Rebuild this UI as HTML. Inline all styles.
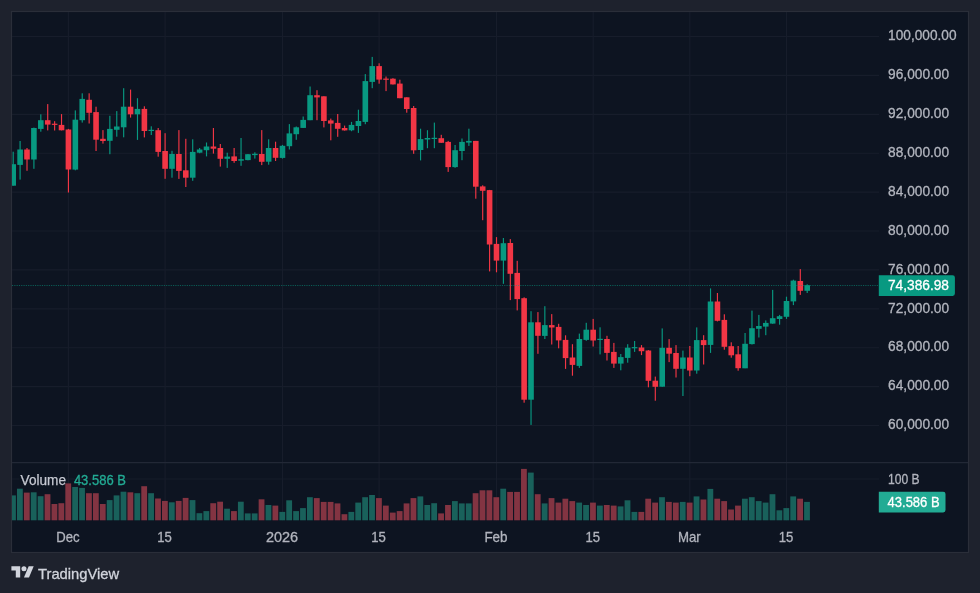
<!DOCTYPE html>
<html lang="en"><head><meta charset="utf-8"><title>TradingView Chart</title>
<style>html,body{margin:0;padding:0;background:#1e222d;}body{width:980px;height:593px;overflow:hidden;}svg{display:block;filter:blur(0.4px);font-family:"Liberation Sans",sans-serif;}</style></head><body>
<svg width="980" height="593" viewBox="0 0 980 593">
<rect x="0" y="0" width="980" height="593" fill="#1e222d"/>
<rect x="11.5" y="11.5" width="957" height="541" fill="#0d1421" stroke="#2a2e39" stroke-width="1.15"/>
<defs><clipPath id="cp"><rect x="12" y="12" width="867" height="540"/></clipPath></defs>
<g stroke="#171d2b" stroke-width="1.15">
<line x1="12" y1="36.5" x2="879" y2="36.5"/>
<line x1="12" y1="75.4" x2="879" y2="75.4"/>
<line x1="12" y1="114.3" x2="879" y2="114.3"/>
<line x1="12" y1="153.2" x2="879" y2="153.2"/>
<line x1="12" y1="192.1" x2="879" y2="192.1"/>
<line x1="12" y1="231.0" x2="879" y2="231.0"/>
<line x1="12" y1="269.9" x2="879" y2="269.9"/>
<line x1="12" y1="308.8" x2="879" y2="308.8"/>
<line x1="12" y1="347.7" x2="879" y2="347.7"/>
<line x1="12" y1="386.6" x2="879" y2="386.6"/>
<line x1="12" y1="425.5" x2="879" y2="425.5"/>
<line x1="12" y1="479.0" x2="879" y2="479.0"/>
<line x1="68.4" y1="12" x2="68.4" y2="520.5"/>
<line x1="165.1" y1="12" x2="165.1" y2="520.5"/>
<line x1="282.5" y1="12" x2="282.5" y2="520.5"/>
<line x1="379.1" y1="12" x2="379.1" y2="520.5"/>
<line x1="496.5" y1="12" x2="496.5" y2="520.5"/>
<line x1="593.2" y1="12" x2="593.2" y2="520.5"/>
<line x1="689.8" y1="12" x2="689.8" y2="520.5"/>
<line x1="786.5" y1="12" x2="786.5" y2="520.5"/>
</g>
<line x1="12" y1="462.6" x2="968" y2="462.6" stroke="#222836" stroke-width="1.15"/>
<g clip-path="url(#cp)">
<rect x="10.09" y="495.4" width="5.8" height="24.9" fill="#19615b"/>
<rect x="17.00" y="488.7" width="5.8" height="31.6" fill="#19615b"/>
<rect x="23.90" y="492.6" width="5.8" height="27.7" fill="#833442"/>
<rect x="30.81" y="492.3" width="5.8" height="28.0" fill="#19615b"/>
<rect x="37.71" y="496.2" width="5.8" height="24.1" fill="#19615b"/>
<rect x="44.62" y="494.2" width="5.8" height="26.1" fill="#833442"/>
<rect x="51.52" y="504.0" width="5.8" height="16.3" fill="#833442"/>
<rect x="58.43" y="503.2" width="5.8" height="17.1" fill="#833442"/>
<rect x="65.33" y="483.4" width="5.8" height="36.9" fill="#833442"/>
<rect x="72.23" y="487.0" width="5.8" height="33.3" fill="#19615b"/>
<rect x="79.14" y="487.9" width="5.8" height="32.4" fill="#19615b"/>
<rect x="86.04" y="493.2" width="5.8" height="27.1" fill="#833442"/>
<rect x="92.95" y="493.2" width="5.8" height="27.1" fill="#833442"/>
<rect x="99.85" y="504.0" width="5.8" height="16.3" fill="#833442"/>
<rect x="106.76" y="500.1" width="5.8" height="20.2" fill="#19615b"/>
<rect x="113.66" y="495.4" width="5.8" height="24.9" fill="#19615b"/>
<rect x="120.57" y="491.7" width="5.8" height="28.6" fill="#19615b"/>
<rect x="127.47" y="492.3" width="5.8" height="28.0" fill="#833442"/>
<rect x="134.37" y="493.2" width="5.8" height="27.1" fill="#19615b"/>
<rect x="141.28" y="486.2" width="5.8" height="34.1" fill="#833442"/>
<rect x="148.18" y="493.2" width="5.8" height="27.1" fill="#19615b"/>
<rect x="155.09" y="498.5" width="5.8" height="21.8" fill="#833442"/>
<rect x="161.99" y="500.9" width="5.8" height="19.4" fill="#833442"/>
<rect x="168.90" y="502.3" width="5.8" height="18.0" fill="#19615b"/>
<rect x="175.80" y="500.9" width="5.8" height="19.4" fill="#833442"/>
<rect x="182.70" y="497.9" width="5.8" height="22.4" fill="#833442"/>
<rect x="189.61" y="500.1" width="5.8" height="20.2" fill="#19615b"/>
<rect x="196.51" y="513.2" width="5.8" height="7.1" fill="#19615b"/>
<rect x="203.42" y="511.1" width="5.8" height="9.2" fill="#19615b"/>
<rect x="210.32" y="503.2" width="5.8" height="17.1" fill="#833442"/>
<rect x="217.23" y="501.7" width="5.8" height="18.6" fill="#833442"/>
<rect x="224.13" y="508.7" width="5.8" height="11.6" fill="#19615b"/>
<rect x="231.04" y="511.1" width="5.8" height="9.2" fill="#833442"/>
<rect x="237.94" y="501.7" width="5.8" height="18.6" fill="#19615b"/>
<rect x="244.84" y="513.4" width="5.8" height="6.9" fill="#19615b"/>
<rect x="251.75" y="513.4" width="5.8" height="6.9" fill="#19615b"/>
<rect x="258.65" y="499.3" width="5.8" height="21.0" fill="#833442"/>
<rect x="265.56" y="505.0" width="5.8" height="15.3" fill="#19615b"/>
<rect x="272.46" y="505.6" width="5.8" height="14.7" fill="#833442"/>
<rect x="279.37" y="511.9" width="5.8" height="8.4" fill="#19615b"/>
<rect x="286.27" y="500.3" width="5.8" height="20.0" fill="#19615b"/>
<rect x="293.18" y="511.1" width="5.8" height="9.2" fill="#19615b"/>
<rect x="300.08" y="508.1" width="5.8" height="12.2" fill="#19615b"/>
<rect x="306.98" y="497.2" width="5.8" height="23.1" fill="#19615b"/>
<rect x="313.89" y="498.1" width="5.8" height="22.2" fill="#833442"/>
<rect x="320.79" y="501.9" width="5.8" height="18.4" fill="#833442"/>
<rect x="327.70" y="501.9" width="5.8" height="18.4" fill="#833442"/>
<rect x="334.60" y="503.4" width="5.8" height="16.9" fill="#833442"/>
<rect x="341.51" y="514.2" width="5.8" height="6.1" fill="#833442"/>
<rect x="348.41" y="511.9" width="5.8" height="8.4" fill="#19615b"/>
<rect x="355.31" y="502.6" width="5.8" height="17.7" fill="#19615b"/>
<rect x="362.22" y="497.2" width="5.8" height="23.1" fill="#19615b"/>
<rect x="369.12" y="495.0" width="5.8" height="25.3" fill="#19615b"/>
<rect x="376.03" y="498.1" width="5.8" height="22.2" fill="#833442"/>
<rect x="382.93" y="505.6" width="5.8" height="14.7" fill="#833442"/>
<rect x="389.84" y="512.6" width="5.8" height="7.7" fill="#833442"/>
<rect x="396.74" y="511.1" width="5.8" height="9.2" fill="#833442"/>
<rect x="403.65" y="503.4" width="5.8" height="16.9" fill="#833442"/>
<rect x="410.55" y="498.1" width="5.8" height="22.2" fill="#833442"/>
<rect x="417.45" y="496.4" width="5.8" height="23.9" fill="#19615b"/>
<rect x="424.36" y="505.0" width="5.8" height="15.3" fill="#19615b"/>
<rect x="431.26" y="503.2" width="5.8" height="17.1" fill="#19615b"/>
<rect x="438.17" y="513.4" width="5.8" height="6.9" fill="#833442"/>
<rect x="445.07" y="505.0" width="5.8" height="15.3" fill="#833442"/>
<rect x="451.98" y="501.1" width="5.8" height="19.2" fill="#19615b"/>
<rect x="458.88" y="503.4" width="5.8" height="16.9" fill="#19615b"/>
<rect x="465.79" y="503.4" width="5.8" height="16.9" fill="#19615b"/>
<rect x="472.69" y="493.2" width="5.8" height="27.1" fill="#833442"/>
<rect x="479.59" y="490.3" width="5.8" height="30.0" fill="#833442"/>
<rect x="486.50" y="490.3" width="5.8" height="30.0" fill="#833442"/>
<rect x="493.40" y="497.2" width="5.8" height="23.1" fill="#833442"/>
<rect x="500.31" y="488.7" width="5.8" height="31.6" fill="#19615b"/>
<rect x="507.21" y="491.9" width="5.8" height="28.4" fill="#833442"/>
<rect x="514.12" y="491.9" width="5.8" height="28.4" fill="#833442"/>
<rect x="521.02" y="468.9" width="5.8" height="51.4" fill="#833442"/>
<rect x="527.92" y="472.6" width="5.8" height="47.7" fill="#19615b"/>
<rect x="534.83" y="494.2" width="5.8" height="26.1" fill="#833442"/>
<rect x="541.73" y="503.4" width="5.8" height="16.9" fill="#19615b"/>
<rect x="548.64" y="498.1" width="5.8" height="22.2" fill="#833442"/>
<rect x="555.54" y="502.6" width="5.8" height="17.7" fill="#833442"/>
<rect x="562.45" y="498.7" width="5.8" height="21.6" fill="#833442"/>
<rect x="569.35" y="501.1" width="5.8" height="19.2" fill="#833442"/>
<rect x="576.26" y="502.6" width="5.8" height="17.7" fill="#19615b"/>
<rect x="583.16" y="505.0" width="5.8" height="15.3" fill="#19615b"/>
<rect x="590.06" y="502.6" width="5.8" height="17.7" fill="#833442"/>
<rect x="596.97" y="505.6" width="5.8" height="14.7" fill="#19615b"/>
<rect x="603.87" y="505.0" width="5.8" height="15.3" fill="#833442"/>
<rect x="610.78" y="505.6" width="5.8" height="14.7" fill="#833442"/>
<rect x="617.68" y="506.4" width="5.8" height="13.9" fill="#19615b"/>
<rect x="624.59" y="500.3" width="5.8" height="20.0" fill="#19615b"/>
<rect x="631.49" y="511.9" width="5.8" height="8.4" fill="#19615b"/>
<rect x="638.40" y="511.9" width="5.8" height="8.4" fill="#833442"/>
<rect x="645.30" y="498.7" width="5.8" height="21.6" fill="#833442"/>
<rect x="652.20" y="502.6" width="5.8" height="17.7" fill="#833442"/>
<rect x="659.11" y="497.2" width="5.8" height="23.1" fill="#19615b"/>
<rect x="666.01" y="501.9" width="5.8" height="18.4" fill="#833442"/>
<rect x="672.92" y="502.6" width="5.8" height="17.7" fill="#833442"/>
<rect x="679.82" y="501.9" width="5.8" height="18.4" fill="#19615b"/>
<rect x="686.73" y="502.6" width="5.8" height="17.7" fill="#833442"/>
<rect x="693.63" y="496.4" width="5.8" height="23.9" fill="#19615b"/>
<rect x="700.53" y="499.5" width="5.8" height="20.8" fill="#833442"/>
<rect x="707.44" y="488.9" width="5.8" height="31.4" fill="#19615b"/>
<rect x="714.34" y="498.7" width="5.8" height="21.6" fill="#833442"/>
<rect x="721.25" y="501.1" width="5.8" height="19.2" fill="#833442"/>
<rect x="728.15" y="509.5" width="5.8" height="10.8" fill="#833442"/>
<rect x="735.06" y="505.6" width="5.8" height="14.7" fill="#833442"/>
<rect x="741.96" y="498.7" width="5.8" height="21.6" fill="#19615b"/>
<rect x="748.87" y="497.2" width="5.8" height="23.1" fill="#19615b"/>
<rect x="755.77" y="501.1" width="5.8" height="19.2" fill="#19615b"/>
<rect x="762.67" y="502.6" width="5.8" height="17.7" fill="#19615b"/>
<rect x="769.58" y="494.2" width="5.8" height="26.1" fill="#19615b"/>
<rect x="776.48" y="510.3" width="5.8" height="10.0" fill="#19615b"/>
<rect x="783.39" y="508.1" width="5.8" height="12.2" fill="#19615b"/>
<rect x="790.29" y="496.4" width="5.8" height="23.9" fill="#19615b"/>
<rect x="797.20" y="498.7" width="5.8" height="21.6" fill="#833442"/>
<rect x="804.10" y="501.9" width="5.8" height="18.4" fill="#19615b"/>
<rect x="12.62" y="151.7" width="1.15" height="33.9" fill="#089981"/>
<rect x="10.39" y="164.2" width="5.6" height="21.5" fill="#089981"/>
<rect x="19.52" y="141.0" width="1.15" height="38.6" fill="#089981"/>
<rect x="17.30" y="149.5" width="5.6" height="15.4" fill="#089981"/>
<rect x="26.43" y="148.0" width="1.15" height="22.8" fill="#f23645"/>
<rect x="24.20" y="149.5" width="5.6" height="10.0" fill="#f23645"/>
<rect x="33.33" y="127.6" width="1.15" height="41.2" fill="#089981"/>
<rect x="31.11" y="128.0" width="5.6" height="31.5" fill="#089981"/>
<rect x="40.24" y="114.3" width="1.15" height="17.4" fill="#089981"/>
<rect x="38.01" y="120.2" width="5.6" height="8.7" fill="#089981"/>
<rect x="47.14" y="104.1" width="1.15" height="26.3" fill="#f23645"/>
<rect x="44.92" y="120.2" width="5.6" height="4.4" fill="#f23645"/>
<rect x="54.05" y="121.2" width="1.15" height="9.3" fill="#f23645"/>
<rect x="51.82" y="123.7" width="5.6" height="1.2" fill="#f23645"/>
<rect x="60.95" y="114.1" width="1.15" height="16.3" fill="#f23645"/>
<rect x="58.73" y="124.9" width="5.6" height="5.4" fill="#f23645"/>
<rect x="67.86" y="128.9" width="1.15" height="63.6" fill="#f23645"/>
<rect x="65.63" y="129.5" width="5.6" height="40.0" fill="#f23645"/>
<rect x="74.76" y="110.4" width="1.15" height="59.9" fill="#089981"/>
<rect x="72.53" y="119.7" width="5.6" height="49.9" fill="#089981"/>
<rect x="81.66" y="93.3" width="1.15" height="29.3" fill="#089981"/>
<rect x="79.44" y="98.9" width="5.6" height="21.3" fill="#089981"/>
<rect x="88.57" y="93.3" width="1.15" height="30.2" fill="#f23645"/>
<rect x="86.34" y="99.8" width="5.6" height="13.0" fill="#f23645"/>
<rect x="95.47" y="106.7" width="1.15" height="44.3" fill="#f23645"/>
<rect x="93.25" y="112.1" width="5.6" height="27.6" fill="#f23645"/>
<rect x="102.38" y="130.1" width="1.15" height="13.5" fill="#f23645"/>
<rect x="100.15" y="138.8" width="5.6" height="2.2" fill="#f23645"/>
<rect x="109.28" y="115.8" width="1.15" height="38.4" fill="#089981"/>
<rect x="107.06" y="128.9" width="5.6" height="11.9" fill="#089981"/>
<rect x="116.19" y="111.1" width="1.15" height="25.6" fill="#089981"/>
<rect x="113.96" y="126.5" width="5.6" height="3.3" fill="#089981"/>
<rect x="123.09" y="88.2" width="1.15" height="49.1" fill="#089981"/>
<rect x="120.87" y="106.7" width="5.6" height="20.6" fill="#089981"/>
<rect x="129.99" y="89.6" width="1.15" height="28.0" fill="#f23645"/>
<rect x="127.77" y="106.7" width="5.6" height="7.6" fill="#f23645"/>
<rect x="136.90" y="98.2" width="1.15" height="41.7" fill="#089981"/>
<rect x="134.67" y="108.9" width="5.6" height="5.4" fill="#089981"/>
<rect x="143.80" y="106.3" width="1.15" height="31.1" fill="#f23645"/>
<rect x="141.58" y="108.9" width="5.6" height="22.1" fill="#f23645"/>
<rect x="150.71" y="126.3" width="1.15" height="8.7" fill="#089981"/>
<rect x="148.48" y="129.8" width="5.6" height="1.2" fill="#089981"/>
<rect x="157.61" y="128.0" width="1.15" height="28.7" fill="#f23645"/>
<rect x="155.39" y="130.2" width="5.6" height="21.7" fill="#f23645"/>
<rect x="164.52" y="133.2" width="1.15" height="45.6" fill="#f23645"/>
<rect x="162.29" y="151.0" width="5.6" height="17.8" fill="#f23645"/>
<rect x="171.42" y="150.8" width="1.15" height="26.9" fill="#089981"/>
<rect x="169.20" y="154.0" width="5.6" height="14.8" fill="#089981"/>
<rect x="178.33" y="130.1" width="1.15" height="48.8" fill="#f23645"/>
<rect x="176.10" y="154.0" width="5.6" height="16.9" fill="#f23645"/>
<rect x="185.23" y="138.8" width="1.15" height="48.2" fill="#f23645"/>
<rect x="183.00" y="170.3" width="5.6" height="7.4" fill="#f23645"/>
<rect x="192.13" y="139.3" width="1.15" height="41.5" fill="#089981"/>
<rect x="189.91" y="151.9" width="5.6" height="25.8" fill="#089981"/>
<rect x="199.04" y="148.0" width="1.15" height="5.2" fill="#089981"/>
<rect x="196.81" y="149.5" width="5.6" height="3.2" fill="#089981"/>
<rect x="205.94" y="142.5" width="1.15" height="13.9" fill="#089981"/>
<rect x="203.72" y="146.5" width="5.6" height="3.7" fill="#089981"/>
<rect x="212.85" y="128.0" width="1.15" height="25.6" fill="#f23645"/>
<rect x="210.62" y="146.5" width="5.6" height="2.2" fill="#f23645"/>
<rect x="219.75" y="144.0" width="1.15" height="22.6" fill="#f23645"/>
<rect x="217.53" y="148.0" width="5.6" height="10.8" fill="#f23645"/>
<rect x="226.66" y="152.7" width="1.15" height="15.2" fill="#089981"/>
<rect x="224.43" y="156.6" width="5.6" height="2.2" fill="#089981"/>
<rect x="233.56" y="148.0" width="1.15" height="14.8" fill="#f23645"/>
<rect x="231.34" y="156.4" width="5.6" height="4.6" fill="#f23645"/>
<rect x="240.47" y="138.0" width="1.15" height="27.8" fill="#089981"/>
<rect x="238.24" y="159.2" width="5.6" height="1.5" fill="#089981"/>
<rect x="247.37" y="154.0" width="1.15" height="6.3" fill="#089981"/>
<rect x="245.14" y="154.2" width="5.6" height="5.9" fill="#089981"/>
<rect x="254.27" y="152.3" width="1.15" height="6.3" fill="#089981"/>
<rect x="252.05" y="153.8" width="5.6" height="1.3" fill="#089981"/>
<rect x="261.18" y="130.1" width="1.15" height="35.0" fill="#f23645"/>
<rect x="258.95" y="154.0" width="5.6" height="7.8" fill="#f23645"/>
<rect x="268.08" y="139.3" width="1.15" height="25.4" fill="#089981"/>
<rect x="265.86" y="148.0" width="5.6" height="13.7" fill="#089981"/>
<rect x="274.99" y="141.7" width="1.15" height="19.3" fill="#f23645"/>
<rect x="272.76" y="148.0" width="5.6" height="9.8" fill="#f23645"/>
<rect x="281.89" y="144.9" width="1.15" height="13.7" fill="#089981"/>
<rect x="279.67" y="145.8" width="5.6" height="12.1" fill="#089981"/>
<rect x="288.80" y="124.1" width="1.15" height="25.4" fill="#089981"/>
<rect x="286.57" y="133.4" width="5.6" height="12.8" fill="#089981"/>
<rect x="295.70" y="126.5" width="1.15" height="13.3" fill="#089981"/>
<rect x="293.48" y="127.3" width="5.6" height="6.9" fill="#089981"/>
<rect x="302.60" y="116.5" width="1.15" height="11.5" fill="#089981"/>
<rect x="300.38" y="119.9" width="5.6" height="8.0" fill="#089981"/>
<rect x="309.51" y="86.5" width="1.15" height="33.7" fill="#089981"/>
<rect x="307.28" y="95.2" width="5.6" height="25.0" fill="#089981"/>
<rect x="316.41" y="90.2" width="1.15" height="30.0" fill="#f23645"/>
<rect x="314.19" y="95.2" width="5.6" height="2.2" fill="#f23645"/>
<rect x="323.32" y="96.3" width="1.15" height="31.1" fill="#f23645"/>
<rect x="321.09" y="96.3" width="5.6" height="24.7" fill="#f23645"/>
<rect x="330.22" y="118.6" width="1.15" height="21.7" fill="#f23645"/>
<rect x="328.00" y="120.4" width="5.6" height="3.2" fill="#f23645"/>
<rect x="337.13" y="114.0" width="1.15" height="22.8" fill="#f23645"/>
<rect x="334.90" y="122.9" width="5.6" height="5.9" fill="#f23645"/>
<rect x="344.03" y="125.6" width="1.15" height="5.0" fill="#f23645"/>
<rect x="341.81" y="128.0" width="5.6" height="2.4" fill="#f23645"/>
<rect x="350.94" y="121.9" width="1.15" height="9.3" fill="#089981"/>
<rect x="348.71" y="124.9" width="5.6" height="5.4" fill="#089981"/>
<rect x="357.84" y="109.7" width="1.15" height="23.2" fill="#089981"/>
<rect x="355.61" y="121.0" width="5.6" height="5.0" fill="#089981"/>
<rect x="364.74" y="74.1" width="1.15" height="50.1" fill="#089981"/>
<rect x="362.52" y="81.1" width="5.6" height="40.8" fill="#089981"/>
<rect x="371.65" y="56.9" width="1.15" height="31.3" fill="#089981"/>
<rect x="369.42" y="66.1" width="5.6" height="15.8" fill="#089981"/>
<rect x="378.55" y="63.3" width="1.15" height="20.4" fill="#f23645"/>
<rect x="376.33" y="66.1" width="5.6" height="13.5" fill="#f23645"/>
<rect x="385.46" y="76.5" width="1.15" height="14.6" fill="#f23645"/>
<rect x="383.23" y="78.6" width="5.6" height="1.2" fill="#f23645"/>
<rect x="392.36" y="78.2" width="1.15" height="6.3" fill="#f23645"/>
<rect x="390.14" y="78.7" width="5.6" height="5.7" fill="#f23645"/>
<rect x="399.27" y="79.7" width="1.15" height="18.5" fill="#f23645"/>
<rect x="397.04" y="83.6" width="5.6" height="14.6" fill="#f23645"/>
<rect x="406.17" y="97.3" width="1.15" height="15.4" fill="#f23645"/>
<rect x="403.95" y="97.3" width="5.6" height="11.7" fill="#f23645"/>
<rect x="413.07" y="106.0" width="1.15" height="47.8" fill="#f23645"/>
<rect x="410.85" y="108.0" width="5.6" height="42.3" fill="#f23645"/>
<rect x="419.98" y="128.7" width="1.15" height="31.7" fill="#089981"/>
<rect x="417.75" y="139.1" width="5.6" height="10.9" fill="#089981"/>
<rect x="426.88" y="130.2" width="1.15" height="18.0" fill="#089981"/>
<rect x="424.66" y="138.0" width="5.6" height="1.5" fill="#089981"/>
<rect x="433.79" y="122.6" width="1.15" height="25.6" fill="#089981"/>
<rect x="431.56" y="137.8" width="5.6" height="1.2" fill="#089981"/>
<rect x="440.69" y="134.8" width="1.15" height="8.0" fill="#f23645"/>
<rect x="438.47" y="138.2" width="5.6" height="4.6" fill="#f23645"/>
<rect x="447.60" y="140.9" width="1.15" height="31.0" fill="#f23645"/>
<rect x="445.37" y="141.9" width="5.6" height="25.2" fill="#f23645"/>
<rect x="454.50" y="145.0" width="1.15" height="22.8" fill="#089981"/>
<rect x="452.28" y="150.2" width="5.6" height="16.9" fill="#089981"/>
<rect x="461.41" y="138.5" width="1.15" height="21.7" fill="#089981"/>
<rect x="459.18" y="141.9" width="5.6" height="9.1" fill="#089981"/>
<rect x="468.31" y="128.7" width="1.15" height="17.2" fill="#089981"/>
<rect x="466.09" y="140.9" width="5.6" height="1.7" fill="#089981"/>
<rect x="475.21" y="140.9" width="1.15" height="57.8" fill="#f23645"/>
<rect x="472.99" y="140.9" width="5.6" height="45.8" fill="#f23645"/>
<rect x="482.12" y="185.3" width="1.15" height="34.9" fill="#f23645"/>
<rect x="479.89" y="186.4" width="5.6" height="4.4" fill="#f23645"/>
<rect x="489.02" y="189.9" width="1.15" height="81.5" fill="#f23645"/>
<rect x="486.80" y="190.1" width="5.6" height="54.4" fill="#f23645"/>
<rect x="495.93" y="237.1" width="1.15" height="35.2" fill="#f23645"/>
<rect x="493.70" y="243.9" width="5.6" height="16.7" fill="#f23645"/>
<rect x="502.83" y="238.0" width="1.15" height="45.8" fill="#089981"/>
<rect x="500.61" y="243.2" width="5.6" height="17.4" fill="#089981"/>
<rect x="509.74" y="239.1" width="1.15" height="61.0" fill="#f23645"/>
<rect x="507.51" y="243.0" width="5.6" height="30.8" fill="#f23645"/>
<rect x="516.64" y="260.8" width="1.15" height="49.6" fill="#f23645"/>
<rect x="514.42" y="272.9" width="5.6" height="26.2" fill="#f23645"/>
<rect x="523.55" y="297.3" width="1.15" height="105.4" fill="#f23645"/>
<rect x="521.32" y="298.2" width="5.6" height="101.5" fill="#f23645"/>
<rect x="530.45" y="311.2" width="1.15" height="113.7" fill="#089981"/>
<rect x="528.22" y="322.3" width="5.6" height="77.4" fill="#089981"/>
<rect x="537.35" y="312.1" width="1.15" height="41.7" fill="#f23645"/>
<rect x="535.13" y="322.3" width="5.6" height="13.5" fill="#f23645"/>
<rect x="544.26" y="306.2" width="1.15" height="32.8" fill="#089981"/>
<rect x="542.03" y="325.1" width="5.6" height="10.8" fill="#089981"/>
<rect x="551.16" y="314.1" width="1.15" height="30.4" fill="#f23645"/>
<rect x="548.94" y="325.1" width="5.6" height="2.4" fill="#f23645"/>
<rect x="558.07" y="323.8" width="1.15" height="24.5" fill="#f23645"/>
<rect x="555.84" y="326.9" width="5.6" height="13.5" fill="#f23645"/>
<rect x="564.97" y="335.3" width="1.15" height="33.6" fill="#f23645"/>
<rect x="562.75" y="339.9" width="5.6" height="18.2" fill="#f23645"/>
<rect x="571.88" y="344.2" width="1.15" height="31.5" fill="#f23645"/>
<rect x="569.65" y="357.5" width="5.6" height="7.4" fill="#f23645"/>
<rect x="578.78" y="333.6" width="1.15" height="34.3" fill="#089981"/>
<rect x="576.56" y="339.0" width="5.6" height="26.9" fill="#089981"/>
<rect x="585.68" y="322.8" width="1.15" height="18.0" fill="#089981"/>
<rect x="583.46" y="329.7" width="5.6" height="10.2" fill="#089981"/>
<rect x="592.59" y="318.9" width="1.15" height="27.6" fill="#f23645"/>
<rect x="590.36" y="329.7" width="5.6" height="10.8" fill="#f23645"/>
<rect x="599.49" y="327.3" width="1.15" height="27.1" fill="#089981"/>
<rect x="597.27" y="338.8" width="5.6" height="1.2" fill="#089981"/>
<rect x="606.40" y="335.8" width="1.15" height="24.7" fill="#f23645"/>
<rect x="604.17" y="339.0" width="5.6" height="13.9" fill="#f23645"/>
<rect x="613.30" y="342.9" width="1.15" height="25.0" fill="#f23645"/>
<rect x="611.08" y="351.9" width="5.6" height="11.7" fill="#f23645"/>
<rect x="620.21" y="354.0" width="1.15" height="16.3" fill="#089981"/>
<rect x="617.98" y="357.1" width="5.6" height="6.5" fill="#089981"/>
<rect x="627.11" y="344.2" width="1.15" height="18.5" fill="#089981"/>
<rect x="624.89" y="347.7" width="5.6" height="10.2" fill="#089981"/>
<rect x="634.02" y="341.0" width="1.15" height="10.9" fill="#089981"/>
<rect x="631.79" y="347.1" width="5.6" height="1.2" fill="#089981"/>
<rect x="640.92" y="345.1" width="1.15" height="10.0" fill="#f23645"/>
<rect x="638.70" y="347.5" width="5.6" height="3.7" fill="#f23645"/>
<rect x="647.82" y="350.1" width="1.15" height="37.2" fill="#f23645"/>
<rect x="645.60" y="350.5" width="5.6" height="30.3" fill="#f23645"/>
<rect x="654.73" y="376.6" width="1.15" height="24.1" fill="#f23645"/>
<rect x="652.50" y="380.7" width="5.6" height="6.1" fill="#f23645"/>
<rect x="661.63" y="328.4" width="1.15" height="58.4" fill="#089981"/>
<rect x="659.41" y="347.8" width="5.6" height="38.9" fill="#089981"/>
<rect x="668.54" y="339.1" width="1.15" height="23.0" fill="#f23645"/>
<rect x="666.31" y="347.8" width="5.6" height="5.9" fill="#f23645"/>
<rect x="675.44" y="345.1" width="1.15" height="32.4" fill="#f23645"/>
<rect x="673.22" y="353.0" width="5.6" height="15.8" fill="#f23645"/>
<rect x="682.35" y="350.6" width="1.15" height="45.4" fill="#089981"/>
<rect x="680.12" y="357.5" width="5.6" height="11.3" fill="#089981"/>
<rect x="689.25" y="346.0" width="1.15" height="30.2" fill="#f23645"/>
<rect x="687.03" y="357.5" width="5.6" height="13.0" fill="#f23645"/>
<rect x="696.16" y="327.4" width="1.15" height="46.3" fill="#089981"/>
<rect x="693.93" y="340.1" width="5.6" height="30.4" fill="#089981"/>
<rect x="703.06" y="335.2" width="1.15" height="29.3" fill="#f23645"/>
<rect x="700.83" y="340.1" width="5.6" height="5.0" fill="#f23645"/>
<rect x="709.96" y="288.4" width="1.15" height="64.5" fill="#089981"/>
<rect x="707.74" y="301.5" width="5.6" height="43.4" fill="#089981"/>
<rect x="716.87" y="293.0" width="1.15" height="28.4" fill="#f23645"/>
<rect x="714.64" y="301.5" width="5.6" height="19.3" fill="#f23645"/>
<rect x="723.77" y="314.3" width="1.15" height="35.4" fill="#f23645"/>
<rect x="721.55" y="319.9" width="5.6" height="26.9" fill="#f23645"/>
<rect x="730.68" y="342.3" width="1.15" height="15.4" fill="#f23645"/>
<rect x="728.45" y="346.2" width="5.6" height="9.1" fill="#f23645"/>
<rect x="737.58" y="346.0" width="1.15" height="24.7" fill="#f23645"/>
<rect x="735.36" y="354.3" width="5.6" height="13.9" fill="#f23645"/>
<rect x="744.49" y="333.0" width="1.15" height="35.2" fill="#089981"/>
<rect x="742.26" y="343.8" width="5.6" height="24.5" fill="#089981"/>
<rect x="751.39" y="310.6" width="1.15" height="33.9" fill="#089981"/>
<rect x="749.17" y="328.2" width="5.6" height="15.9" fill="#089981"/>
<rect x="758.29" y="314.9" width="1.15" height="22.6" fill="#089981"/>
<rect x="756.07" y="326.0" width="5.6" height="2.8" fill="#089981"/>
<rect x="765.20" y="320.4" width="1.15" height="14.8" fill="#089981"/>
<rect x="762.97" y="322.9" width="5.6" height="3.7" fill="#089981"/>
<rect x="772.10" y="289.9" width="1.15" height="33.9" fill="#089981"/>
<rect x="769.88" y="318.2" width="5.6" height="5.4" fill="#089981"/>
<rect x="779.01" y="314.9" width="1.15" height="9.8" fill="#089981"/>
<rect x="776.78" y="316.2" width="5.6" height="2.8" fill="#089981"/>
<rect x="785.91" y="296.7" width="1.15" height="22.2" fill="#089981"/>
<rect x="783.69" y="301.0" width="5.6" height="15.8" fill="#089981"/>
<rect x="792.82" y="279.7" width="1.15" height="25.4" fill="#089981"/>
<rect x="790.59" y="280.6" width="5.6" height="20.8" fill="#089981"/>
<rect x="799.72" y="269.1" width="1.15" height="25.8" fill="#f23645"/>
<rect x="797.50" y="281.0" width="5.6" height="9.8" fill="#f23645"/>
<rect x="806.63" y="284.3" width="1.15" height="8.7" fill="#089981"/>
<rect x="804.40" y="285.2" width="5.6" height="5.6" fill="#089981"/>
<line x1="12" y1="285.5" x2="879" y2="285.5" stroke="#089981" stroke-width="1.15" stroke-dasharray="1.15 1.15" opacity="0.55"/>
</g>
<text x="888.1" y="40.2" fill="#b2b5be" stroke="#b2b5be" stroke-width="0.3" font-size="14px" text-anchor="start" textLength="68.4" lengthAdjust="spacingAndGlyphs">100,000.00</text>
<text x="888.1" y="79.1" fill="#b2b5be" stroke="#b2b5be" stroke-width="0.3" font-size="14px" text-anchor="start" textLength="61.0" lengthAdjust="spacingAndGlyphs">96,000.00</text>
<text x="888.1" y="118.0" fill="#b2b5be" stroke="#b2b5be" stroke-width="0.3" font-size="14px" text-anchor="start" textLength="61.0" lengthAdjust="spacingAndGlyphs">92,000.00</text>
<text x="888.1" y="156.9" fill="#b2b5be" stroke="#b2b5be" stroke-width="0.3" font-size="14px" text-anchor="start" textLength="61.0" lengthAdjust="spacingAndGlyphs">88,000.00</text>
<text x="888.1" y="195.8" fill="#b2b5be" stroke="#b2b5be" stroke-width="0.3" font-size="14px" text-anchor="start" textLength="61.0" lengthAdjust="spacingAndGlyphs">84,000.00</text>
<text x="888.1" y="234.7" fill="#b2b5be" stroke="#b2b5be" stroke-width="0.3" font-size="14px" text-anchor="start" textLength="61.0" lengthAdjust="spacingAndGlyphs">80,000.00</text>
<text x="888.1" y="273.6" fill="#b2b5be" stroke="#b2b5be" stroke-width="0.3" font-size="14px" text-anchor="start" textLength="61.0" lengthAdjust="spacingAndGlyphs">76,000.00</text>
<text x="888.1" y="312.5" fill="#b2b5be" stroke="#b2b5be" stroke-width="0.3" font-size="14px" text-anchor="start" textLength="61.0" lengthAdjust="spacingAndGlyphs">72,000.00</text>
<text x="888.1" y="351.4" fill="#b2b5be" stroke="#b2b5be" stroke-width="0.3" font-size="14px" text-anchor="start" textLength="61.0" lengthAdjust="spacingAndGlyphs">68,000.00</text>
<text x="888.1" y="390.3" fill="#b2b5be" stroke="#b2b5be" stroke-width="0.3" font-size="14px" text-anchor="start" textLength="61.0" lengthAdjust="spacingAndGlyphs">64,000.00</text>
<text x="888.1" y="429.2" fill="#b2b5be" stroke="#b2b5be" stroke-width="0.3" font-size="14px" text-anchor="start" textLength="61.0" lengthAdjust="spacingAndGlyphs">60,000.00</text>
<text x="888.0" y="484.2" fill="#b2b5be" stroke="#b2b5be" stroke-width="0.3" font-size="14px" text-anchor="start" textLength="31.6" lengthAdjust="spacingAndGlyphs">100 B</text>
<text x="67.9" y="541.8" fill="#b2b5be" stroke="#b2b5be" stroke-width="0.3" font-size="14.4px" text-anchor="middle" textLength="23.4" lengthAdjust="spacingAndGlyphs">Dec</text>
<text x="164.6" y="541.8" fill="#b2b5be" stroke="#b2b5be" stroke-width="0.3" font-size="14.4px" text-anchor="middle" textLength="14.6" lengthAdjust="spacingAndGlyphs">15</text>
<text x="282.0" y="541.8" fill="#b2b5be" stroke="#b2b5be" stroke-width="0.3" font-size="14.4px" text-anchor="middle" textLength="32.2" lengthAdjust="spacingAndGlyphs">2026</text>
<text x="378.6" y="541.8" fill="#b2b5be" stroke="#b2b5be" stroke-width="0.3" font-size="14.4px" text-anchor="middle" textLength="14.6" lengthAdjust="spacingAndGlyphs">15</text>
<text x="496.0" y="541.8" fill="#b2b5be" stroke="#b2b5be" stroke-width="0.3" font-size="14.4px" text-anchor="middle" textLength="23.2" lengthAdjust="spacingAndGlyphs">Feb</text>
<text x="592.7" y="541.8" fill="#b2b5be" stroke="#b2b5be" stroke-width="0.3" font-size="14.4px" text-anchor="middle" textLength="14.6" lengthAdjust="spacingAndGlyphs">15</text>
<text x="689.3" y="541.8" fill="#b2b5be" stroke="#b2b5be" stroke-width="0.3" font-size="14.4px" text-anchor="middle" textLength="22.8" lengthAdjust="spacingAndGlyphs">Mar</text>
<text x="786.0" y="541.8" fill="#b2b5be" stroke="#b2b5be" stroke-width="0.3" font-size="14.4px" text-anchor="middle" textLength="14.6" lengthAdjust="spacingAndGlyphs">15</text>
<path d="M878.8 275.2h73.8a2.3 2.3 0 0 1 2.3 2.3v16.1a2.3 2.3 0 0 1 -2.3 2.3h-73.8z" fill="#089981"/>
<text x="888.0" y="290.1" fill="#ffffff" stroke="#ffffff" stroke-width="0.3" font-size="14px" text-anchor="start" textLength="61.0" lengthAdjust="spacingAndGlyphs">74,386.98</text>
<path d="M878.8 491.7h64.4a2.3 2.3 0 0 1 2.3 2.3v16.1a2.3 2.3 0 0 1 -2.3 2.3h-64.4z" fill="#22ab94"/>
<text x="887.6" y="507.0" fill="#ffffff" stroke="#ffffff" stroke-width="0.3" font-size="14px" text-anchor="start" textLength="52.0" lengthAdjust="spacingAndGlyphs">43.586 B</text>
<rect x="19.5" y="473" width="45.2" height="13.5" fill="#0d1421"/>
<text x="20.6" y="485.0" fill="#c6c9d2" stroke="#c6c9d2" stroke-width="0.25" font-size="14.2px" text-anchor="start" textLength="45.4" lengthAdjust="spacingAndGlyphs">Volume</text>
<text x="73.9" y="485.0" fill="#22ab94" stroke="#22ab94" stroke-width="0.3" font-size="14px" text-anchor="start" textLength="52.0" lengthAdjust="spacingAndGlyphs">43.586 B</text>
<g transform="translate(11.4,563.7) scale(0.628)" fill="#d1d4dc"><path d="M14 22H7V11H0V4h14v18z"/><path d="M28 22h-8l7.5-18h8L28 22z"/><circle cx="20" cy="8" r="4"/></g>
<text x="38.0" y="578.5" fill="#d1d4dc" stroke="#d1d4dc" stroke-width="0.3" font-size="14.8px" text-anchor="start" textLength="81.2" lengthAdjust="spacingAndGlyphs">TradingView</text>
</svg></body></html>
